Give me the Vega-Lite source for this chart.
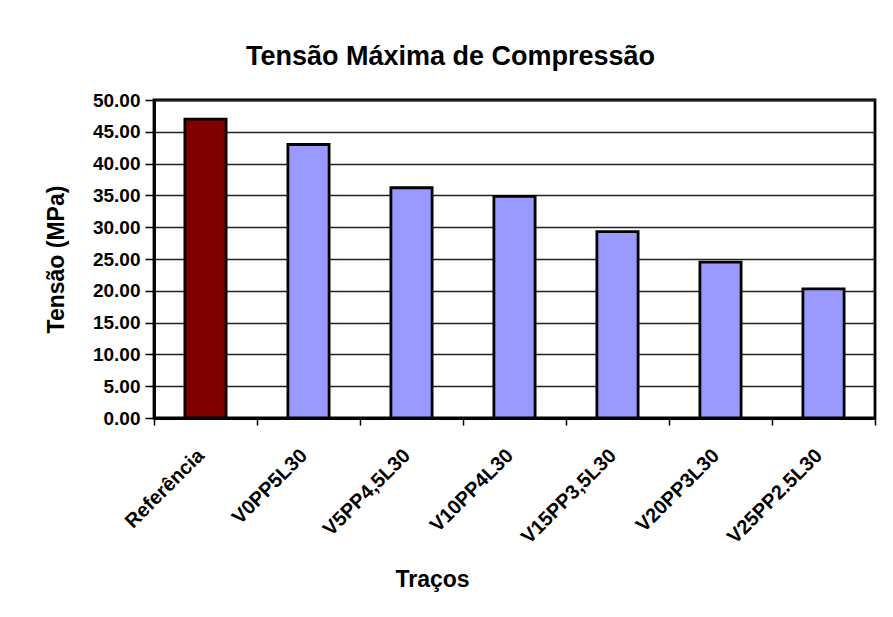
{
  "$schema": "https://vega.github.io/schema/vega-lite/v6.json",
  "autosize": "none",
  "width": 721,
  "height": 318,
  "padding": {"left": 154, "top": 100, "right": 18, "bottom": 199},
  "background": "white",
  "title": {
    "text": "Tensão Máxima de Compressão",
    "font": "Liberation Sans",
    "fontSize": 27,
    "fontWeight": "bold",
    "color": "black",
    "anchor": "middle",
    "dx": -64,
    "offset": 20
  },
  "data": {
    "values": [
      {"traco": "Referência", "tensao": 47.0, "grupo": "ref"},
      {"traco": "V0PP5L30", "tensao": 43.0, "grupo": "outro"},
      {"traco": "V5PP4,5L30", "tensao": 36.2, "grupo": "outro"},
      {"traco": "V10PP4L30", "tensao": 34.85, "grupo": "outro"},
      {"traco": "V15PP3,5L30", "tensao": 29.3, "grupo": "outro"},
      {"traco": "V20PP3L30", "tensao": 24.5, "grupo": "outro"},
      {"traco": "V25PP2.5L30", "tensao": 20.3, "grupo": "outro"}
    ]
  },
  "mark": {"type": "bar", "stroke": "black", "strokeWidth": 2.8, "width": {"band": 0.4}},
  "encoding": {
    "x": {
      "field": "traco",
      "type": "nominal",
      "sort": null,
      "scale": {"paddingInner": 0, "paddingOuter": 0},
      "axis": {
        "title": "Traços",
        "titleFont": "Liberation Sans",
        "titleFontSize": 23,
        "titleFontWeight": "bold",
        "titleColor": "black",
        "titleX": 278,
        "titleY": 150,
        "titleAnchor": "middle",
        "labelAngle": -45,
        "labelFont": "Liberation Sans",
        "labelFontSize": 20,
        "labelFontWeight": "bold",
        "labelColor": "black",
        "labelPadding": 20,
        "labelOffset": -12,
        "tickBand": "extent",
        "tickSize": 7,
        "tickColor": "black",
        "tickWidth": 1.5,
        "domain": true,
        "domainColor": "black",
        "domainWidth": 2.8,
        "grid": false
      }
    },
    "y": {
      "field": "tensao",
      "type": "quantitative",
      "scale": {"domain": [0, 50], "nice": false},
      "axis": {
        "title": "Tensão (MPa)",
        "titleFont": "Liberation Sans",
        "titleFontSize": 23,
        "titleFontWeight": "bold",
        "titleColor": "black",
        "titlePadding": 24,
        "values": [0, 5, 10, 15, 20, 25, 30, 35, 40, 45, 50],
        "format": ".2f",
        "labelFont": "Liberation Sans",
        "labelFontSize": 19,
        "labelFontWeight": "bold",
        "labelColor": "black",
        "labelPadding": 5,
        "tickSize": 9,
        "tickColor": "black",
        "tickWidth": 1.5,
        "domain": true,
        "domainColor": "black",
        "domainWidth": 2.8,
        "grid": true,
        "gridColor": "#222222",
        "gridWidth": 1.3
      }
    },
    "color": {
      "field": "grupo",
      "type": "nominal",
      "scale": {"domain": ["ref", "outro"], "range": ["#800000", "#9999FF"]},
      "legend": null
    }
  },
  "config": {
    "view": {"stroke": "black", "strokeWidth": 2.8}
  }
}
